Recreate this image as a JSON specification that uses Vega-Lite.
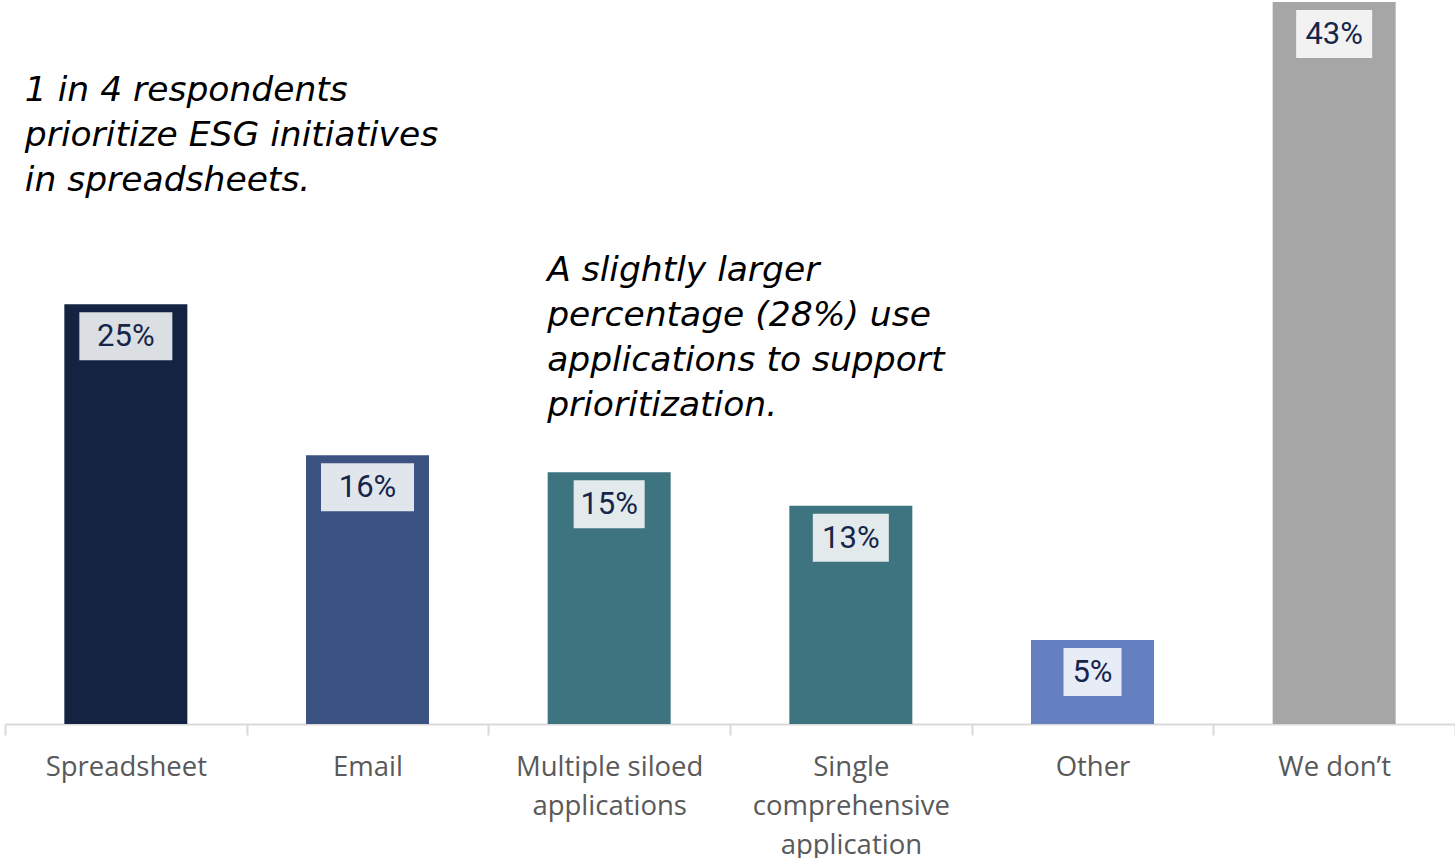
{
  "$schema": "https://vega.github.io/schema/vega-lite/v6.json",
  "autosize": {"type": "none"},
  "width": 1450,
  "height": 724,
  "padding": {"left": 5, "top": 0, "right": 0, "bottom": 134},
  "background": "white",
  "config": {"view": {"stroke": null}},
  "datasets": {
    "bars": [
      {"category": "Spreadsheet", "value": 25, "label": "25%"},
      {"category": "Email", "value": 16, "label": "16%"},
      {"category": "Multiple siloed applications", "value": 15, "label": "15%"},
      {"category": "Single comprehensive application", "value": 13, "label": "13%"},
      {"category": "Other", "value": 5, "label": "5%"},
      {"category": "We don’t", "value": 43, "label": "43%"}
    ],
    "notes": [
      {"category": "Spreadsheet", "value": 37.1, "text": ["1 in 4 respondents", "prioritize ESG initiatives", "in spreadsheets."], "which": "a"},
      {"category": "Multiple siloed applications", "value": 26.4, "text": ["A slightly larger", "percentage (28%) use", "applications to support", "prioritization."], "which": "b"}
    ]
  },
  "encoding": {
    "x": {
      "field": "category",
      "type": "nominal",
      "sort": null,
      "scale": {"domain": ["Spreadsheet", "Email", "Multiple siloed applications", "Single comprehensive application", "Other", "We don’t"], "paddingInner": 0, "paddingOuter": 0},
      "axis": {
        "title": null,
        "labelAngle": 0,
        "labelFont": "Open Sans",
        "labelFontSize": 27.5,
        "labelColor": "#595959",
        "labelPadding": 18,
        "labelLineHeight": 39,
        "labelLimit": 0,
        "labelExpr": "datum.value == 'Multiple siloed applications' ? ['Multiple siloed', 'applications'] : datum.value == 'Single comprehensive application' ? ['Single', 'comprehensive', 'application'] : datum.value",
        "domainColor": "#d9d9d9",
        "domainWidth": 2,
        "tickColor": "#d9d9d9",
        "tickWidth": 2,
        "tickSize": 11,
        "tickBand": "extent",
        "grid": false
      }
    }
  },
  "layer": [
    {
      "data": {"name": "bars"},
      "mark": {"type": "bar", "width": 123},
      "encoding": {
        "y": {"field": "value", "type": "quantitative", "scale": {"domain": [0, 43.12], "nice": false}, "axis": null},
        "color": {
          "field": "category",
          "type": "nominal",
          "scale": {"domain": ["Spreadsheet", "Email", "Multiple siloed applications", "Single comprehensive application", "Other", "We don’t"], "range": ["#132341", "#3b5282", "#3d7480", "#3d7480", "#6580c0", "#a6a6a6"]},
          "legend": null
        }
      }
    },
    {
      "data": {"name": "bars"},
      "mark": {"type": "bar", "color": "white", "opacity": 0.85, "yOffset": 8, "y2Offset": 56},
      "encoding": {
        "y": {"field": "value", "type": "quantitative"},
        "y2": {"field": "value"},
        "size": {
          "condition": [
            {"test": "datum.value >= 16 && datum.value < 40", "value": 93},
            {"test": "datum.value < 10", "value": 58},
            {"test": "datum.value == 15", "value": 71}
          ],
          "value": 76
        }
      }
    },
    {
      "data": {"name": "bars"},
      "mark": {"type": "text", "font": "Roboto", "fontSize": 31, "color": "#15264a", "baseline": "middle", "align": "center", "dy": 33},
      "encoding": {
        "y": {"field": "value", "type": "quantitative"},
        "text": {"field": "label"}
      }
    },
    {
      "data": {"name": "notes"},
      "transform": [{"filter": "datum.which == 'a'"}],
      "mark": {"type": "text", "font": "DejaVu Sans", "fontStyle": "italic", "fontSize": 34.5, "color": "#000000", "align": "left", "baseline": "alphabetic", "lineHeight": 45, "dx": -101},
      "encoding": {
        "y": {"field": "value", "type": "quantitative"},
        "text": {"field": "text"}
      }
    },
    {
      "data": {"name": "notes"},
      "transform": [{"filter": "datum.which == 'b'"}],
      "mark": {"type": "text", "font": "DejaVu Sans", "fontStyle": "italic", "fontSize": 34.5, "color": "#000000", "align": "left", "baseline": "alphabetic", "lineHeight": 45, "dx": -62},
      "encoding": {
        "y": {"field": "value", "type": "quantitative"},
        "text": {"field": "text"}
      }
    }
  ]
}
